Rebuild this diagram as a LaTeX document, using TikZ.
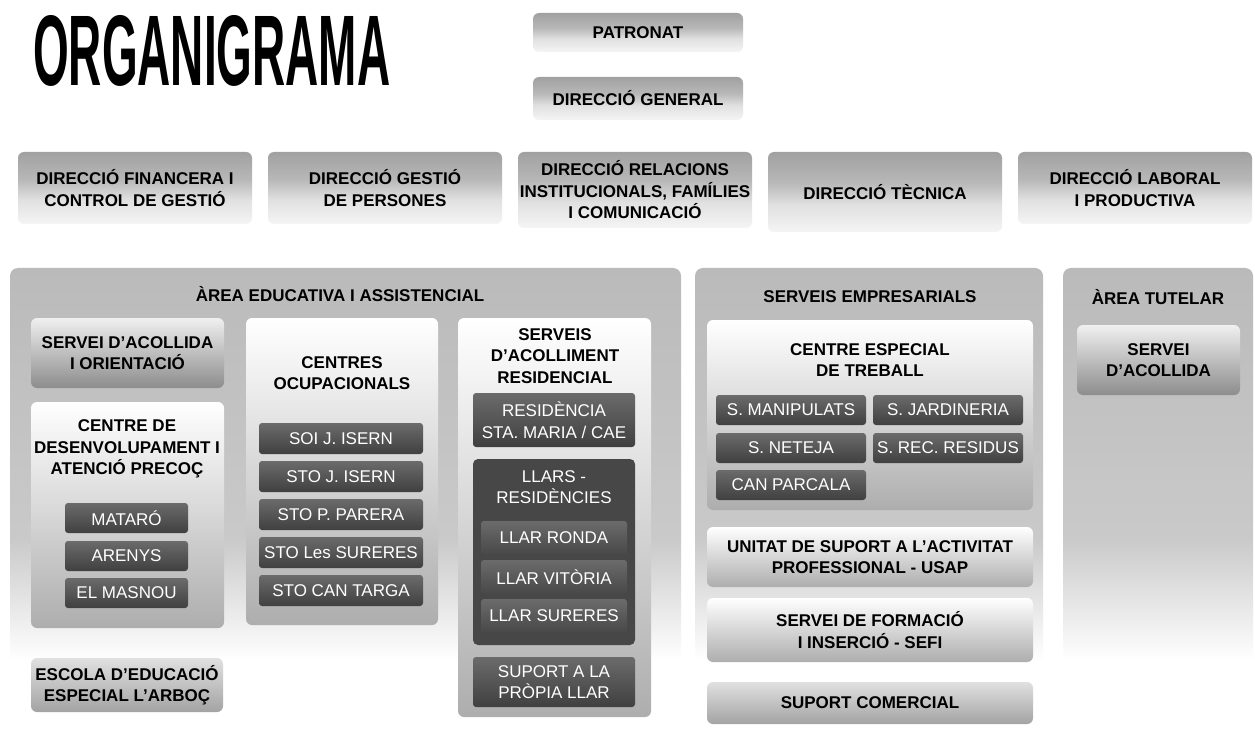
\documentclass[tikz,border=0pt]{standalone}
\usepackage{fontspec}
\setmainfont{Liberation Sans}
\usepackage{graphicx}
\pgfdeclareverticalshading{panelsh}{100bp}{color(0bp)=(white); color(33bp)=(white); color(46bp)=(black!21); color(75bp)=(black!27); color(100bp)=(black!27)}
\pgfdeclareverticalshading{topsh}{100bp}{color(0bp)=(black!4); color(25bp)=(black!4); color(42bp)=(black!12); color(56bp)=(black!28); color(75bp)=(black!37); color(100bp)=(black!37)}
\newcommand\fbig{\fontsize{17}{21.5}\selectfont}
\newcommand\mkbox[7]{\node[#2, inner sep=0pt, align=center, minimum width={(#5-#3)*1pt}, minimum height={(#6-#4)*1pt}] (#1) at ({(#3+#5)/2},{(#4+#6)/2}) {#7};}
\tikzset{
  lbl/.style={font=\fbig\bfseries, align=center, inner sep=0pt, text=black},
  wlbl/.style={font=\fbig, align=center, inner sep=0pt, text=white},
  panel/.style={rounded corners=8pt, shade, shading=panelsh},
  topb/.style={rounded corners=6pt, shade, shading=topsh},
  whitebox/.style={rounded corners=6pt, top color=white, bottom color=black!32},
  revbox/.style={rounded corners=6pt, top color=black!6, bottom color=black!45},
  gradbox/.style={rounded corners=6pt, top color=black!12, bottom color=black!36},
  darkbox/.style={rounded corners=3pt, top color=black!58, bottom color=black!75, wlbl},
  llargrp/.style={rounded corners=5pt, fill=black!72},
  llarin/.style={rounded corners=3pt, top color=black!58, bottom color=black!72, wlbl}
}
\begin{document}
\begin{tikzpicture}[x=1pt,y=-1pt]
\useasboundingbox (0,0) rectangle (1255,735);
\fill[white] (0,0) rectangle (1255,735);
% title
\node[inner sep=0pt, anchor=north west] (title) at (33,15) {\resizebox{357pt}{70pt}{\bfseries ORGANIGRAMA}};
% top
\mkbox{patronat}{topb,lbl}{533}{13}{743}{52}{PATRONAT}
\mkbox{dirgen}{topb,lbl}{533}{77}{743}{120}{DIRECCIÓ GENERAL}
\mkbox{dfin}{topb,lbl}{18}{152}{252}{224}{DIRECCIÓ FINANCERA I\\CONTROL DE GESTIÓ}
\mkbox{dges}{topb,lbl}{268}{152}{502}{224}{DIRECCIÓ GESTIÓ\\DE PERSONES}
\mkbox{drel}{topb,lbl}{518}{152}{752}{228}{DIRECCIÓ RELACIONS\\INSTITUCIONALS, FAMÍLIES\\I COMUNICACIÓ}
\mkbox{dtec}{topb,lbl}{768}{152}{1002}{232}{DIRECCIÓ TÈCNICA}
\mkbox{dlab}{topb,lbl}{1018}{152}{1252}{224}{DIRECCIÓ LABORAL\\I PRODUCTIVA}
% panels
\mkbox{areaedu}{panel}{10}{268}{681}{735}{}
\mkbox{serveis}{panel}{695}{268}{1043}{735}{}
\mkbox{tutelar}{panel}{1063}{268}{1253}{735}{}
\node[lbl] (areaeduT) at (340,294) {ÀREA EDUCATIVA I ASSISTENCIAL};
\node[lbl] (serveisT) at (870,297) {SERVEIS EMPRESARIALS};
\node[lbl] (tutelarT) at (1158,297) {ÀREA TUTELAR};
% area educativa
\mkbox{sao}{revbox,lbl}{31}{318}{224}{388}{SERVEI D'ACOLLIDA\\I ORIENTACIÓ}
\mkbox{cdiap}{whitebox}{31}{402}{224}{628}{}
\node[lbl] (cdiapT) at (127,449) {CENTRE DE\\DESENVOLUPAMENT I\\ATENCIÓ PRECOÇ};
\mkbox{mataro}{darkbox}{65}{503}{188}{533}{MATARÓ}
\mkbox{arenys}{darkbox}{65}{541}{188}{571}{ARENYS}
\mkbox{masnou}{darkbox}{65}{578}{188}{608}{EL MASNOU}
\mkbox{escola}{gradbox,lbl}{31}{658}{223}{712}{ESCOLA D'EDUCACIÓ\\ESPECIAL L'ARBOÇ}
\mkbox{cocup}{whitebox}{246}{318}{438}{625}{}
\node[lbl] (cocupT) at (342,373) {CENTRES\\OCUPACIONALS};
\mkbox{soi}{darkbox}{259}{423}{423}{454}{SOI J. ISERN}
\mkbox{stoj}{darkbox}{259}{461}{423}{492}{STO J. ISERN}
\mkbox{stop}{darkbox}{259}{499}{423}{530}{STO P. PARERA}
\mkbox{stol}{darkbox}{259}{537}{423}{568}{STO Les SURERES}
\mkbox{stoc}{darkbox}{259}{575}{423}{606}{STO CAN TARGA}
\mkbox{sar}{whitebox}{458}{318}{651}{717}{}
\node[lbl] (sarT) at (555,356) {SERVEIS\\D'ACOLLIMENT\\RESIDENCIAL};
\mkbox{resid}{darkbox}{473}{393}{635}{447}{RESIDÈNCIA\\STA. MARIA / CAE}
\mkbox{llars}{llargrp}{473}{459}{635}{645}{}
\node[wlbl] (llarsT) at (554,487) {LLARS -\\RESIDÈNCIES};
\mkbox{ronda}{llarin}{481}{521}{627}{555}{LLAR RONDA}
\mkbox{vitoria}{llarin}{481}{560}{627}{594}{LLAR VITÒRIA}
\mkbox{sureres}{llarin}{481}{599}{627}{633}{LLAR SURERES}
\mkbox{propia}{darkbox}{473}{657}{635}{707}{SUPORT A LA\\PRÒPIA LLAR}
% serveis empresarials
\mkbox{cet}{whitebox}{707}{320}{1033}{510}{}
\node[lbl] (cetT) at (870,360) {CENTRE ESPECIAL\\DE TREBALL};
\mkbox{manip}{darkbox}{716}{395}{866}{425}{S. MANIPULATS}
\mkbox{jard}{darkbox}{873}{395}{1023}{425}{S. JARDINERIA}
\mkbox{neteja}{darkbox}{716}{433}{866}{463}{S. NETEJA}
\mkbox{resi}{darkbox}{873}{433}{1023}{463}{S. REC. RESIDUS}
\mkbox{parcala}{darkbox}{716}{470}{866}{500}{CAN PARCALA}
\mkbox{usap}{whitebox,lbl}{707}{527}{1033}{587}{UNITAT DE SUPORT A L'ACTIVITAT\\PROFESSIONAL - USAP}
\mkbox{sefi}{whitebox,lbl}{707}{598}{1033}{662}{SERVEI DE FORMACIÓ\\I INSERCIÓ - SEFI}
\mkbox{comercial}{gradbox,lbl}{707}{682}{1033}{724}{SUPORT COMERCIAL}
% tutelar
\mkbox{sacoll}{revbox,lbl}{1077}{325}{1240}{395}{SERVEI\\D'ACOLLIDA}
\end{tikzpicture}
\end{document}
